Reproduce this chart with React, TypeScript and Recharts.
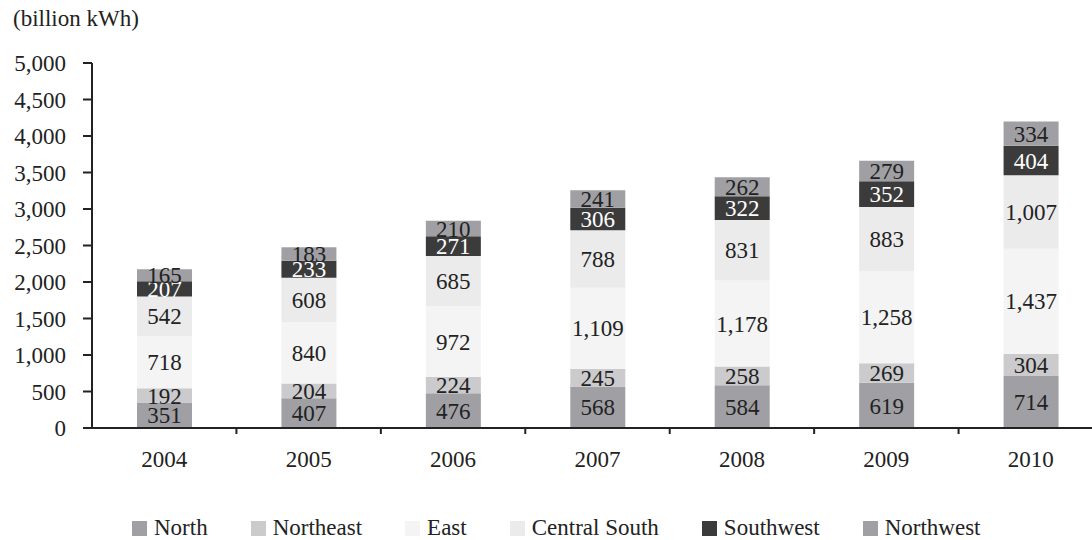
import React from "react";
import { BarChart, Bar, XAxis, YAxis, LabelList } from "recharts";

// Electricity consumption by region, billion kWh
const years = ["2004", "2005", "2006", "2007", "2008", "2009", "2010"];
const north = [351, 407, 476, 568, 584, 619, 714];
const northeast = [192, 204, 224, 245, 258, 269, 304];
const east = [718, 840, 972, 1109, 1178, 1258, 1437];
const centralSouth = [542, 608, 685, 788, 831, 883, 1007];
const southwest = [207, 233, 271, 306, 322, 352, 404];
const northwest = [165, 183, 210, 241, 262, 279, 334];
const yTicks = [0, 500, 1000, 1500, 2000, 2500, 3000, 3500, 4000, 4500, 5000];

const FONT = "'Liberation Serif', 'Times New Roman', serif";
const INK = "#222222";

const series = [
  { key: "north", name: "North", values: north, color: "#a0a0a4", text: INK },
  { key: "northeast", name: "Northeast", values: northeast, color: "#cbcbcd", text: INK },
  { key: "east", name: "East", values: east, color: "#f3f4f3", text: INK },
  { key: "centralSouth", name: "Central South", values: centralSouth, color: "#ebebeb", text: INK },
  { key: "southwest", name: "Southwest", values: southwest, color: "#3b3b3b", text: "#ffffff" },
  { key: "northwest", name: "Northwest", values: northwest, color: "#a0a0a4", text: INK },
];

const data = years.map((year, i) => {
  const row: Record<string, string | number> = { year };
  series.forEach((s) => {
    row[s.key] = s.values[i];
  });
  return row;
});

const fmt = (v: number | string) => Number(v).toLocaleString("en-US");

// Year label centred on the band, with a short tick on the band's left edge
const BandTick = (props: any) => {
  const { x, y, payload, index } = props;
  const half = payload && payload.offset ? payload.offset : 0;
  return (
    <g>
      {index > 0 && (
        <line x1={x - half} y1={y} x2={x - half} y2={y + 6} stroke={INK} strokeWidth={2} />
      )}
      <text x={x} y={y + 39} textAnchor="middle" fill={INK} fontSize={23} fontFamily={FONT}>
        {payload.value}
      </text>
    </g>
  );
};

export default function App() {
  return (
    <div
      style={{
        position: "fixed",
        left: 0,
        top: 0,
        width: 1092,
        height: 540,
        overflow: "hidden",
        background: "#ffffff",
        fontFamily: FONT,
      }}
    >
      <div
        style={{
          position: "absolute",
          left: 13,
          top: 7,
          fontSize: 23,
          lineHeight: "23px",
          color: INK,
        }}
      >
        (billion kWh)
      </div>
      <BarChart
        width={1120}
        height={540}
        data={data}
        margin={{ top: 63, right: 17, bottom: 0, left: 0 }}
        barSize={55}
      >
        <XAxis
          dataKey="year"
          height={112}
          axisLine={{ stroke: INK, strokeWidth: 2 }}
          tickLine={false}
          tickSize={0}
          tickMargin={0}
          interval={0}
          tick={<BandTick />}
        />
        <YAxis
          width={92}
          domain={[0, 5000]}
          ticks={yTicks}
          interval={0}
          axisLine={{ stroke: INK, strokeWidth: 2 }}
          tickLine={{ stroke: INK, strokeWidth: 2 }}
          tickSize={9}
          tickMargin={17}
          tickFormatter={fmt}
          tick={{ fill: INK, fontSize: 23, fontFamily: FONT }}
        />
        {series.map((s) => (
          <Bar
            key={s.key}
            dataKey={s.key}
            name={s.name}
            stackId="region"
            fill={s.color}
            isAnimationActive={false}
          >
            <LabelList
              dataKey={s.key}
              position="center"
              formatter={fmt}
              fill={s.text}
              fontSize={23}
              fontFamily={FONT}
            />
          </Bar>
        ))}
      </BarChart>
      <div
        style={{
          position: "absolute",
          left: 132,
          top: 515,
          height: 26,
          display: "flex",
          alignItems: "center",
          fontSize: 23,
          lineHeight: "26px",
          color: INK,
          whiteSpace: "nowrap",
        }}
      >
        {series.map((s) => (
          <div key={s.key} style={{ display: "flex", alignItems: "center", marginRight: 43 }}>
            <span
              style={{
                display: "inline-block",
                width: 15,
                height: 15,
                background: s.color,
                marginRight: 7,
              }}
            />
            <span>{s.name}</span>
          </div>
        ))}
      </div>
    </div>
  );
}
